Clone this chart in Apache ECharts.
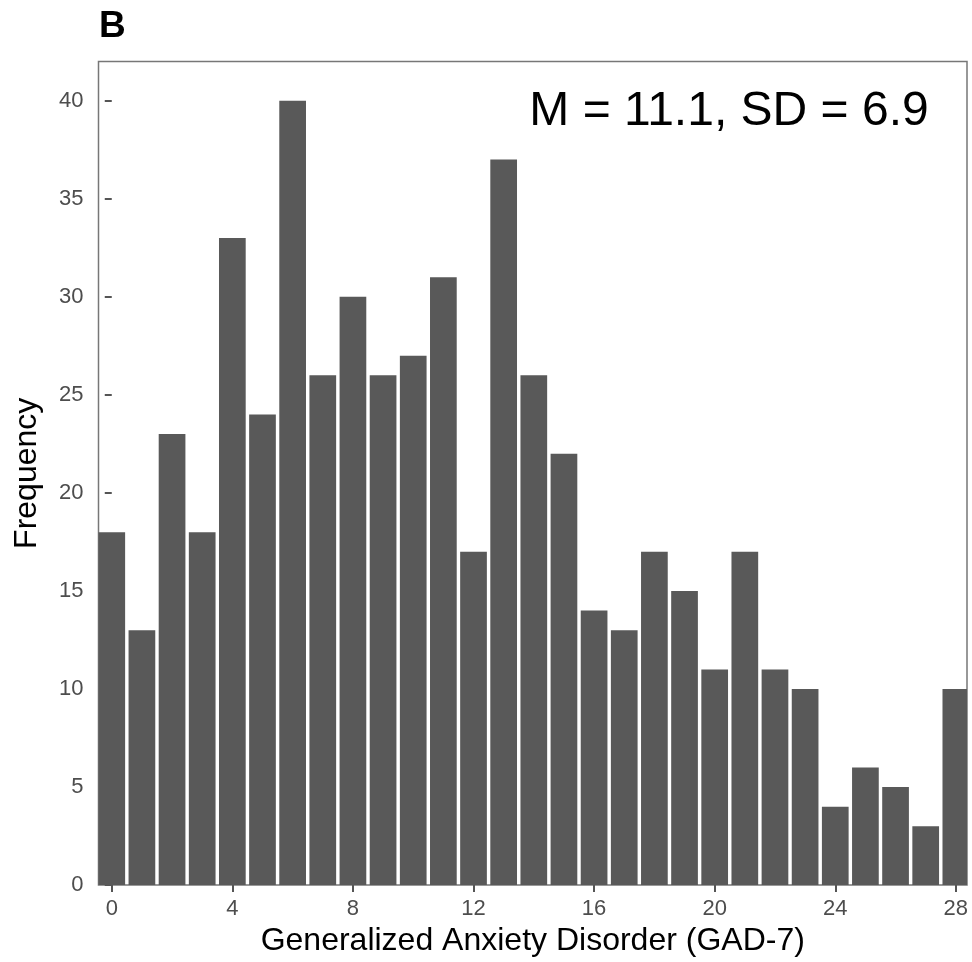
<!DOCTYPE html>
<html>
<head>
<meta charset="utf-8">
<script src="https://cdn.jsdelivr.net/npm/echarts@6/dist/echarts.min.js"></script>
<style>html,body{margin:0;padding:0;background:#fff;}#c{width:972px;height:962px;}</style>
</head>
<body>
<div id="c"></div>
<script>
const scores = [0,1,2,3,4,5,6,7,8,9,10,11,12,13,14,15,16,17,18,19,20,21,22,23,24,25,26,27,28];
const frequency = [18,13,23,18,33,24,40,26,30,26,27,31,17,37,26,22,14,13,17,15,11,17,11,10,4,6,5,3,10];
const xTicks = [0,4,8,12,16,20,24,28];
const panelLabel = 'B';
const annotationText = 'M = 11.1, SD = 6.9';
const xTitle = 'Generalized Anxiety Disorder (GAD-7)';
const yTitle = 'Frequency';

const chart = echarts.init(document.getElementById('c'), null, {renderer: 'canvas'});
const FONT = '"Liberation Sans", Arial, sans-serif';
const data = scores.map((s, i) => [s, frequency[i]]);

chart.setOption({
  animation: false,
  backgroundColor: '#ffffff',
  grid: {
    left: 98.5, right: 5, top: 61.5, bottom: 75.5,
    show: true, borderColor: '#777', borderWidth: 1.5, backgroundColor: 'transparent'
  },
  xAxis: {
    type: 'value', min: -0.44, max: 28.37,
    name: xTitle, nameLocation: 'middle', nameGap: 38,
    nameTextStyle: {fontFamily: FONT, fontSize: 32, color: '#000'},
    axisLine: {show: false},
    splitLine: {show: false},
    axisTick: {show: true, length: 7, customValues: xTicks, lineStyle: {color: '#555', width: 2}},
    axisLabel: {customValues: xTicks, fontFamily: FONT, fontSize: 22, color: '#4d4d4d', margin: 13}
  },
  yAxis: {
    type: 'value', min: 0, max: 42, interval: 5,
    name: yTitle, nameLocation: 'middle', nameGap: 55, nameRotate: 90,
    nameTextStyle: {fontFamily: FONT, fontSize: 32, color: '#000'},
    axisLine: {show: false},
    splitLine: {show: false},
    axisTick: {show: true, length: 7, lineStyle: {color: '#555', width: 2}},
    axisLabel: {fontFamily: FONT, fontSize: 22, color: '#4d4d4d', margin: 15,
      showMaxLabel: false}
  },
  series: [{
    type: 'custom',
    data: data,
    clip: true,
    renderItem: function (params, api) {
      const x = api.value(0), v = api.value(1);
      const p0 = api.coord([x - 0.443, v]);
      const p1 = api.coord([x + 0.443, 0]);
      const rect = echarts.graphic.clipRectByRect(
        {x: p0[0], y: p0[1], width: p1[0] - p0[0], height: p1[1] - p0[1]},
        {x: params.coordSys.x, y: params.coordSys.y, width: params.coordSys.width, height: params.coordSys.height}
      );
      if (!rect) return null;
      return {type: 'rect', shape: rect, style: {fill: '#595959'}};
    }
  }],
  graphic: [
    {type: 'text', left: 99, top: 8, style: {text: panelLabel, font: 'bold 37px ' + FONT, fill: '#000'}},
    {type: 'text', x: 729, y: 112, style: {text: annotationText, font: '48px ' + FONT, fill: '#000', align: 'center', verticalAlign: 'middle'}}
  ]
});
</script>
</body>
</html>
